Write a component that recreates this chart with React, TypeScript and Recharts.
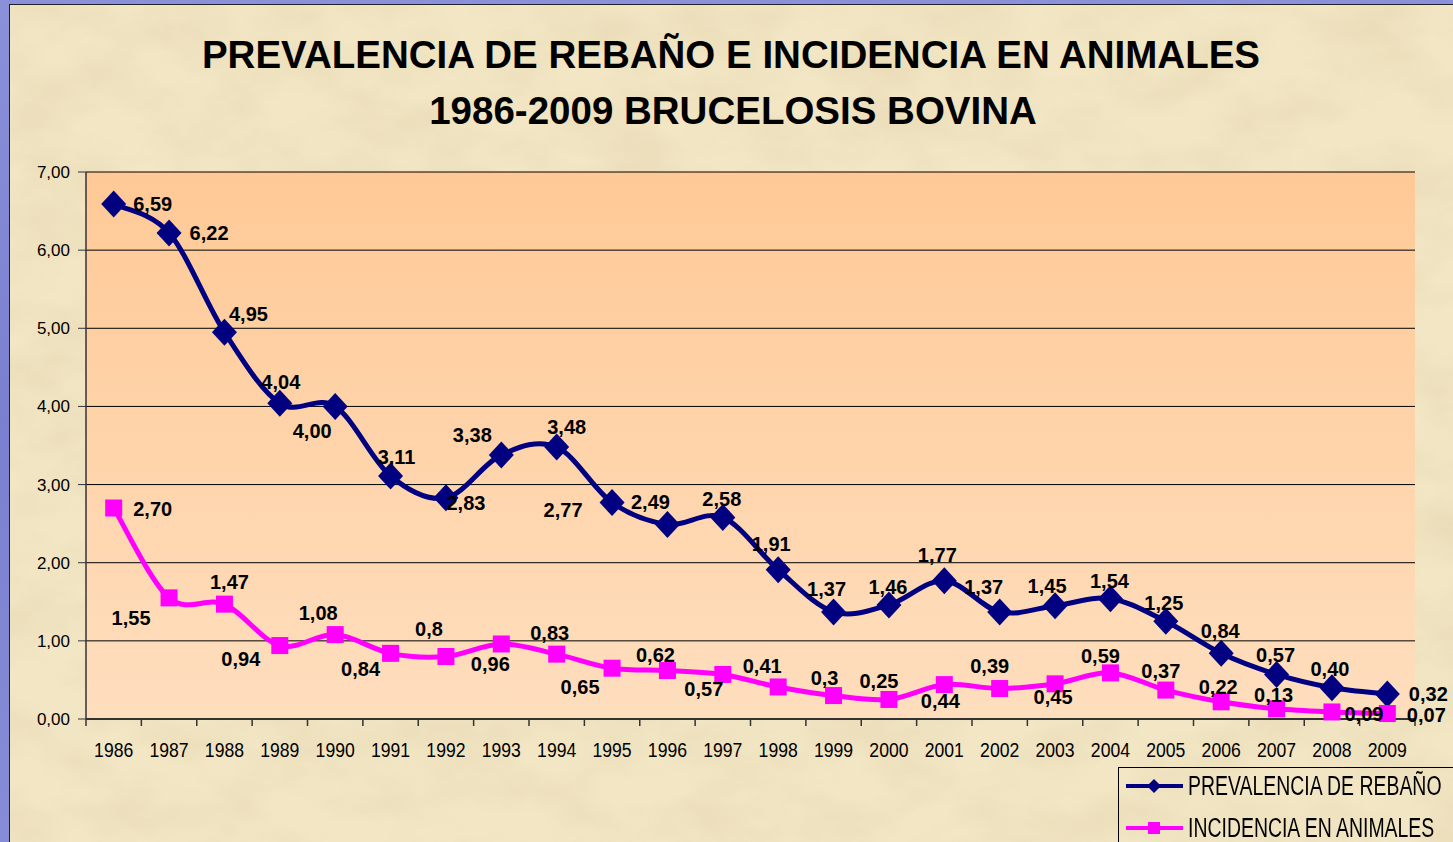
import React from 'react';
import { LineChart, Line, XAxis, YAxis, CartesianGrid, LabelList } from 'recharts';

const years = ['1986', '1987', '1988', '1989', '1990', '1991', '1992', '1993', '1994', '1995', '1996', '1997', '1998', '1999', '2000', '2001', '2002', '2003', '2004', '2005', '2006', '2007', '2008', '2009'];
const prevalencia = [6.59, 6.22, 4.95, 4.04, 4.0, 3.11, 2.83, 3.38, 3.48, 2.77, 2.49, 2.58, 1.91, 1.37, 1.46, 1.77, 1.37, 1.45, 1.54, 1.25, 0.84, 0.57, 0.4, 0.32];
const incidencia = [2.7, 1.55, 1.47, 0.94, 1.08, 0.84, 0.8, 0.96, 0.83, 0.65, 0.62, 0.57, 0.41, 0.3, 0.25, 0.44, 0.39, 0.45, 0.59, 0.37, 0.22, 0.13, 0.09, 0.07];
const prevalenciaLabels = prevalencia.map((v) => v.toFixed(2).replace('.', ','));
const incidenciaLabels = ['2,70', '1,55', '1,47', '0,94', '1,08', '0,84', '0,8', '0,96', '0,83', '0,65', '0,62', '0,57', '0,41', '0,3', '0,25', '0,44', '0,39', '0,45', '0,59', '0,37', '0,22', '0,13', '0,09', '0,07'];
const yTicks = [0, 1, 2, 3, 4, 5, 6, 7];
const seriesNames = ['PREVALENCIA DE REBAÑO', 'INCIDENCIA EN ANIMALES'];
const titleLines = ['PREVALENCIA DE REBAÑO E INCIDENCIA EN ANIMALES', '1986-2009 BRUCELOSIS BOVINA'];

// label placement (offsets from the point, in px)
const prevLabelOffsets: [number, number][] = [
  [39, 0], [40, 0], [24, -18], [1, -21], [-23, 25], [6, -19], [20, 5], [-29, -20], [10, -20], [-49, 7],
  [-17, -22], [-1, -18], [-7, -26], [-7, -23], [-1, -18], [-7, -26], [-16, -25], [-8, -20], [-1, -18],
  [-2, -18], [-1, -22], [-1, -19], [-2, -19], [41, 0],
];
const incLabelOffsets: [number, number][] = [
  [39, 1], [-38, 20], [5, -22], [-39, 13], [-17, -22], [-30, 16], [-17, -27], [-11, 20], [-7, -21], [-32, 19],
  [-12, -16], [-19, 15], [-16, -21], [-9, -18], [-10, -18], [-4, 16], [-10, -23], [-2, 13], [-10, -17],
  [-5, -19], [-3, -15], [-3, -14], [32, 2], [39, 1],
];

const NAVY = '#000080';
const MAGENTA = '#FF00FF';
const FONT = '"Liberation Sans", Arial, sans-serif';

const W = 1453;
const H = 842;
const margin = { top: 172, right: 38, bottom: 83, left: 26 };
const Y_AXIS_W = 60;
const X_AXIS_H = 40;
const plotW = W - margin.left - Y_AXIS_W - margin.right;

const data = years.map((y, i) => ({ year: y, prev: prevalencia[i], inc: incidencia[i] }));

// Catmull-Rom style smoothing (Excel-like)
function smoothCurve(context: any) {
  let pts: [number, number][] = [];
  return {
    areaStart() {},
    areaEnd() {},
    lineStart() {
      pts = [];
    },
    lineEnd() {
      const n = pts.length;
      if (n === 0) return;
      context.moveTo(pts[0][0], pts[0][1]);
      for (let i = 0; i < n - 1; i++) {
        const p0 = pts[i - 1] || pts[i];
        const p1 = pts[i];
        const p2 = pts[i + 1];
        const p3 = pts[i + 2] || p2;
        const c1x = p1[0] + (p2[0] - p0[0]) / 6;
        const c1y = p1[1] + (p2[1] - p0[1]) / 6;
        const c2x = p2[0] - (p3[0] - p1[0]) / 6;
        const c2y = p2[1] - (p3[1] - p1[1]) / 6;
        context.bezierCurveTo(c1x, c1y, c2x, c2y, p2[0], p2[1]);
      }
    },
    point(x: number, y: number) {
      pts.push([+x, +y]);
    },
  };
}

const Diamond = (props: any) => {
  const { cx, cy } = props;
  if (cx == null || cy == null) return null;
  const rx = 12.5;
  const ry = 13.5;
  return <path d={`M${cx},${cy - ry}L${cx + rx},${cy}L${cx},${cy + ry}L${cx - rx},${cy}Z`} fill={NAVY} />;
};

const Square = (props: any) => {
  const { cx, cy } = props;
  if (cx == null || cy == null) return null;
  const s = 17;
  return <rect x={cx - s / 2} y={cy - s / 2} width={s} height={s} fill={MAGENTA} />;
};

const makeLabel = (offsets: [number, number][], texts: string[]) => (props: any) => {
  const { index } = props;
  const x = props.x ?? props.viewBox?.x;
  const y = props.y ?? props.viewBox?.y;
  if (x == null || y == null || index == null) return null;
  const [dx, dy] = offsets[index] || [0, -18];
  return (
    <text
      x={x + dx}
      y={y + dy}
      textAnchor="middle"
      dominantBaseline="central"
      fontFamily={FONT}
      fontWeight="bold"
      fontSize={20}
      fill="#000"
    >
      {texts[index]}
    </text>
  );
};

const XTick = (props: any) => {
  const { x, y, payload, index } = props;
  const step = plotW / years.length;
  return (
    <g>
      <line x1={x - step / 2} y1={y} x2={x - step / 2} y2={y + 7} stroke="#333" strokeWidth={1.5} />
      {index === years.length - 1 && (
        <line x1={x + step / 2} y1={y} x2={x + step / 2} y2={y + 7} stroke="#333" strokeWidth={1.5} />
      )}
      <text
        transform={`translate(${x},${y + 38}) scale(0.84,1)`}
        textAnchor="middle"
        fontFamily={FONT}
        fontSize={21}
        fill="#000"
      >
        {payload.value}
      </text>
    </g>
  );
};

const fmtY = (v: number) => v.toFixed(2).replace('.', ',');

export default function App() {
  return (
    <div
      style={{
        position: 'absolute',
        left: 0,
        top: 0,
        width: W,
        height: H,
        overflow: 'hidden',
        background: 'linear-gradient(180deg, #8a90d9 0%, #7a80cf 50%, #868cd6 100%)',
      }}
    >
      {/* textured panel */}
      <svg
        width={W - 9}
        height={H - 4}
        style={{ position: 'absolute', left: 9, top: 4 }}
      >
        <defs>
          <filter id="tex" x="0" y="0" width="100%" height="100%">
            <feTurbulence type="fractalNoise" baseFrequency="0.012 0.02" numOctaves="4" seed="7" />
            <feColorMatrix
              type="matrix"
              values="0 0 0 0 0.80  0 0 0 0 0.68  0 0 0 0 0.45  1.6 0 0 0 -0.55"
            />
          </filter>
        </defs>
        <rect x={0} y={0} width={W} height={H} fill="#F2E6C4" />
        <rect x={0} y={0} width={W} height={H} filter="url(#tex)" opacity={0.7} />
        <line x1={0.5} y1={0} x2={0.5} y2={H} stroke="#222" strokeWidth={1} />
        <line x1={0} y1={0.5} x2={W} y2={0.5} stroke="#222" strokeWidth={1} />
      </svg>

      {/* title */}
      <svg width={W} height={140} style={{ position: 'absolute', left: 0, top: 0 }}>
        <text x={731} y={68} textAnchor="middle" fontFamily={FONT} fontWeight="bold" fontSize={38.5} fill="#000">
          {titleLines[0]}
        </text>
        <text x={733} y={124} textAnchor="middle" fontFamily={FONT} fontWeight="bold" fontSize={38.5} fill="#000">
          {titleLines[1]}
        </text>
      </svg>

      <div style={{ position: 'absolute', left: 0, top: 0 }}>
        <LineChart width={W} height={H} data={data} margin={margin}>
          <defs>
            <linearGradient id="plotBg" x1="0" y1="0" x2="0" y2="1">
              <stop offset="0%" stopColor="#FFC996" />
              <stop offset="100%" stopColor="#FEDEBE" />
            </linearGradient>
          </defs>
          <CartesianGrid vertical={false} stroke="#000" strokeWidth={1} fill="url(#plotBg)" fillOpacity={1} />
          <XAxis
            dataKey="year"
            scale="band"
            interval={0}
            height={X_AXIS_H}
            tickSize={0}
            tickMargin={0}
            tickLine={false}
            tick={<XTick />}
            axisLine={{ stroke: '#333', strokeWidth: 2 }}
          />
          <XAxis
            xAxisId="top"
            dataKey="year"
            scale="band"
            orientation="top"
            height={0}
            tick={false}
            tickLine={false}
            axisLine={{ stroke: '#8C8C8C', strokeWidth: 2 }}
          />
          <YAxis
            width={Y_AXIS_W}
            domain={[0, 7]}
            ticks={yTicks}
            interval={0}
            tickFormatter={fmtY}
            tickSize={8}
            tickMargin={8}
            tickLine={{ stroke: '#333' }}
            axisLine={{ stroke: '#333', strokeWidth: 1.5 }}
            tick={{ fill: '#000', fontSize: 17, fontFamily: FONT }}
          />
          <YAxis
            yAxisId="right"
            orientation="right"
            width={0}
            domain={[0, 7]}
            tick={false}
            tickLine={false}
            axisLine={{ stroke: '#8C8C8C', strokeWidth: 2 }}
          />
          <Line
            dataKey="prev"
            name={seriesNames[0]}
            type={smoothCurve as any}
            stroke={NAVY}
            strokeWidth={5}
            dot={<Diamond />}
            activeDot={false}
            isAnimationActive={false}
          >
            <LabelList dataKey="prev" content={makeLabel(prevLabelOffsets, prevalenciaLabels)} />
          </Line>
          <Line
            dataKey="inc"
            name={seriesNames[1]}
            type={smoothCurve as any}
            stroke={MAGENTA}
            strokeWidth={5}
            dot={<Square />}
            activeDot={false}
            isAnimationActive={false}
          >
            <LabelList dataKey="inc" content={makeLabel(incLabelOffsets, incidenciaLabels)} />
          </Line>
        </LineChart>
      </div>

      {/* legend */}
      <div
        style={{
          position: 'absolute',
          left: 1118,
          top: 767,
          width: 400,
          height: 120,
          border: '1px solid #000',
          boxSizing: 'border-box',
        }}
      >
        {seriesNames.map((name, i) => (
          <div
            key={name}
            style={{ position: 'absolute', left: 6, top: i === 0 ? 4 : 46, height: 28, display: 'flex', alignItems: 'center' }}
          >
            <svg width={60} height={28}>
              <line x1={1} y1={14} x2={58} y2={14} stroke={i === 0 ? NAVY : MAGENTA} strokeWidth={4} />
              {i === 0 ? (
                <path d="M29,7L36,14L29,21L22,14Z" fill={NAVY} />
              ) : (
                <rect x={23} y={8} width={12} height={12} fill={MAGENTA} />
              )}
            </svg>
            <span
              style={{
                fontFamily: FONT,
                fontSize: 27,
                lineHeight: '28px',
                color: '#000',
                whiteSpace: 'nowrap',
                display: 'inline-block',
                transform: 'scaleX(0.72)',
                transformOrigin: 'left center',
                marginLeft: 3,
              }}
            >
              {name}
            </span>
          </div>
        ))}
      </div>
    </div>
  );
}
